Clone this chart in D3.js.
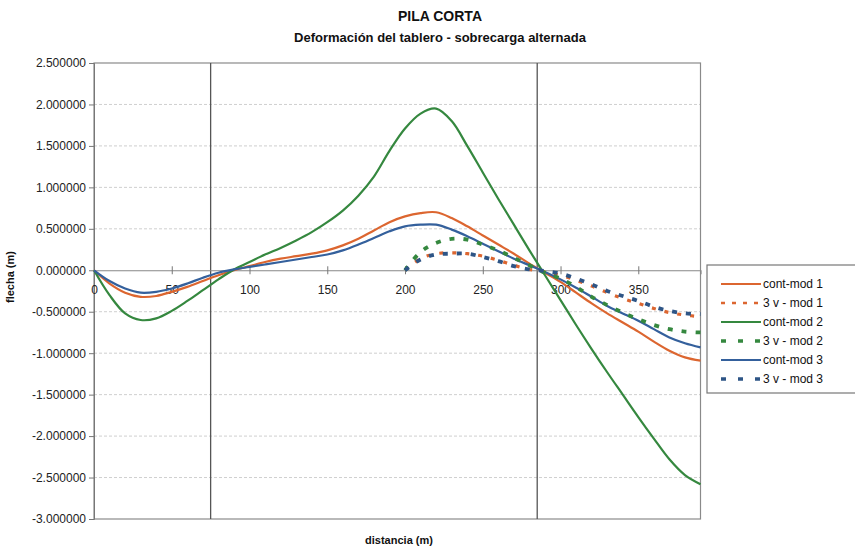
<!DOCTYPE html>
<html><head><meta charset="utf-8">
<script src="https://cdn.jsdelivr.net/npm/d3@7/dist/d3.min.js"></script>
<style>body{margin:0;background:#fff}svg{display:block}text{font-family:"Liberation Sans",Arial,sans-serif}</style>
</head><body><div id="chart"></div>
<script>
// ---- data ----
const xCont = [0,10,20,30,40,50,60,70,80,90,100,110,120,130,140,150,160,170,180,190,200,210,220,230,240,250,260,270,280,290,300,310,320,330,340,350,360,370,380,390];
const contMod1 = [0,-0.16,-0.27,-0.32,-0.31,-0.26,-0.20,-0.13,-0.06,0.00,0.05,0.10,0.14,0.17,0.20,0.24,0.30,0.38,0.48,0.58,0.65,0.69,0.70,0.63,0.53,0.42,0.31,0.20,0.08,-0.03,-0.14,-0.27,-0.40,-0.52,-0.63,-0.74,-0.86,-0.97,-1.05,-1.09];
const contMod2 = [0,-0.30,-0.52,-0.60,-0.58,-0.49,-0.37,-0.24,-0.11,0.01,0.10,0.19,0.27,0.36,0.46,0.58,0.72,0.90,1.13,1.44,1.71,1.89,1.95,1.80,1.50,1.18,0.86,0.55,0.24,-0.06,-0.36,-0.66,-0.95,-1.23,-1.50,-1.77,-2.03,-2.28,-2.47,-2.58];
const contMod3 = [0,-0.13,-0.22,-0.27,-0.26,-0.22,-0.16,-0.09,-0.03,0.01,0.04,0.07,0.10,0.13,0.16,0.19,0.24,0.31,0.39,0.47,0.53,0.55,0.55,0.49,0.41,0.32,0.23,0.14,0.06,-0.02,-0.11,-0.21,-0.32,-0.43,-0.52,-0.61,-0.71,-0.81,-0.88,-0.93];
const x3v = [200,210,220,230,240,250,260,270,280,290,300,310,320,330,340,350,360,370,380,390];
const v3Mod1 = [0,0.14,0.20,0.21,0.20,0.17,0.12,0.06,0.01,-0.02,-0.06,-0.12,-0.19,-0.27,-0.34,-0.40,-0.46,-0.51,-0.54,-0.56];
const v3Mod2 = [0,0.22,0.33,0.38,0.37,0.31,0.24,0.15,0.06,-0.03,-0.10,-0.20,-0.32,-0.42,-0.51,-0.59,-0.66,-0.71,-0.74,-0.75];
const v3Mod3 = [0,0.13,0.19,0.20,0.20,0.16,0.11,0.05,0.01,-0.01,-0.04,-0.10,-0.17,-0.25,-0.31,-0.37,-0.44,-0.49,-0.52,-0.53];
const piers = [75, 285];
const xTicks = [0,50,100,150,200,250,300,350];
const yTicks = [2.5,2.0,1.5,1.0,0.5,0,-0.5,-1.0,-1.5,-2.0,-2.5,-3.0];
const seriesNames = ["cont-mod 1","3 v - mod 1","cont-mod 2","3 v - mod 2","cont-mod 3","3 v - mod 3"];

// ---- styles ----
const C1 = "#dc6630", C2 = "#35883f", C3 = "#34609c";
const series = [
  {name:seriesNames[0], xs:xCont, ys:contMod1, color:C1, w:2.2, dash:null},
  {name:seriesNames[2], xs:xCont, ys:contMod2, color:C2, w:2.2, dash:null},
  {name:seriesNames[4], xs:xCont, ys:contMod3, color:C3, w:2.2, dash:null},
  {name:seriesNames[1], xs:x3v, ys:v3Mod1, color:C1, w:3.2, dash:"4,9"},
  {name:seriesNames[3], xs:x3v, ys:v3Mod2, color:C2, w:3.8, dash:"5,9"},
  {name:seriesNames[5], xs:x3v, ys:v3Mod3, color:"#2e5586", w:3.8, dash:"5,9"}
];
const legendStyle = {
  "cont-mod 1":{color:C1,w:2,dash:null},
  "3 v - mod 1":{color:C1,w:2.5,dash:"4,7"},
  "cont-mod 2":{color:C2,w:2,dash:null},
  "3 v - mod 2":{color:C2,w:3.5,dash:"5,12"},
  "cont-mod 3":{color:C3,w:2,dash:null},
  "3 v - mod 3":{color:"#2e5586",w:3.5,dash:"5,12"}
};

const W = 855, H = 548;
const svg = d3.select("#chart").append("svg").attr("width",W).attr("height",H);
svg.append("rect").attr("width",W).attr("height",H).attr("fill","#fff");

const x = d3.scaleLinear().domain([0,390]).range([94,700.5]);
const y = d3.scaleLinear().domain([-3,2.5]).range([519,63]);

// grid
svg.append("g").selectAll("line").data(yTicks.filter(v=>v!==0 && v!==2.5 && v!==-3)).join("line")
  .attr("x1",x(0)).attr("x2",x(390)).attr("y1",d=>y(d)).attr("y2",d=>y(d))
  .attr("stroke","#cfcfcf").attr("stroke-width",1).attr("stroke-dasharray","3,2");

// plot border
svg.append("rect").attr("x",x(0)).attr("y",y(2.5)).attr("width",x(390)-x(0)).attr("height",y(-3)-y(2.5))
  .attr("fill","none").attr("stroke","#8a8a8a").attr("stroke-width",1.2);

// pier lines
svg.append("g").selectAll("line").data(piers).join("line")
  .attr("x1",d=>x(d)).attr("x2",d=>x(d)).attr("y1",y(2.5)).attr("y2",y(-3))
  .attr("stroke","#555").attr("stroke-width",1.3);

// y axis
const yAxis = d3.axisLeft(y).tickValues(yTicks).tickFormat(d3.format(".6f")).tickSize(5).tickPadding(3);
const gy = svg.append("g").attr("transform",`translate(${x(0)},0)`).call(yAxis);
gy.select(".domain").attr("stroke","#777");
gy.selectAll(".tick line").attr("stroke","#777");
gy.selectAll("text").attr("font-size",12).attr("fill","#222").text(d=>d3.format(".6f")(d).replace("−","-"));

// x axis (at zero)
const xAxis = d3.axisBottom(x).tickValues(xTicks).tickFormat(d3.format("d")).tickSize(4).tickPadding(11);
const gx = svg.append("g").attr("transform",`translate(0,${y(0)})`).call(xAxis);
gx.select(".domain").attr("stroke","#888").attr("stroke-width",1.2);
gx.selectAll(".tick line").attr("y1",-4).attr("stroke","#777");
gx.selectAll("text").attr("font-size",12).attr("fill","#222");

// lines
const line = d3.line().curve(d3.curveCatmullRom.alpha(0.5));
series.forEach(s=>{
  const pts = s.xs.map((v,i)=>[x(v), y(s.ys[i])]);
  const p = svg.append("path").attr("d",line(pts)).attr("fill","none")
    .attr("stroke",s.color).attr("stroke-width",s.w).attr("stroke-linejoin","round");
  if (s.dash) p.attr("stroke-dasharray",s.dash);
});

// titles
svg.append("text").attr("x",440).attr("y",21).attr("text-anchor","middle").attr("font-size",14).attr("font-weight","bold").attr("fill","#111").text("PILA CORTA");
svg.append("text").attr("x",440).attr("y",42).attr("text-anchor","middle").attr("font-size",13).attr("font-weight","bold").attr("fill","#111").text("Deformación del tablero - sobrecarga alternada");
svg.append("text").attr("x",399).attr("y",544).attr("text-anchor","middle").attr("font-size",11).attr("font-weight","bold").attr("fill","#111").text("distancia (m)");
svg.append("text").attr("transform","translate(14,277) rotate(-90)").attr("text-anchor","middle").attr("font-size",11).attr("font-weight","bold").attr("fill","#111").text("flecha (m)");

// legend
const lg = svg.append("g");
lg.append("rect").attr("x",707).attr("y",265).attr("width",160).attr("height",128).attr("fill","#fff").attr("stroke","#777").attr("stroke-width",1.2);
seriesNames.forEach((n,i)=>{
  const st = legendStyle[n];
  const yy = 284 + i*19;
  const l = lg.append("line").attr("x1",721).attr("x2",761).attr("y1",yy).attr("y2",yy)
    .attr("stroke",st.color).attr("stroke-width",st.w);
  if (st.dash) l.attr("stroke-dasharray",st.dash);
  lg.append("text").attr("x",763).attr("y",yy+4).attr("font-size",12).attr("fill","#111").text(n);
});
</script></body></html>
